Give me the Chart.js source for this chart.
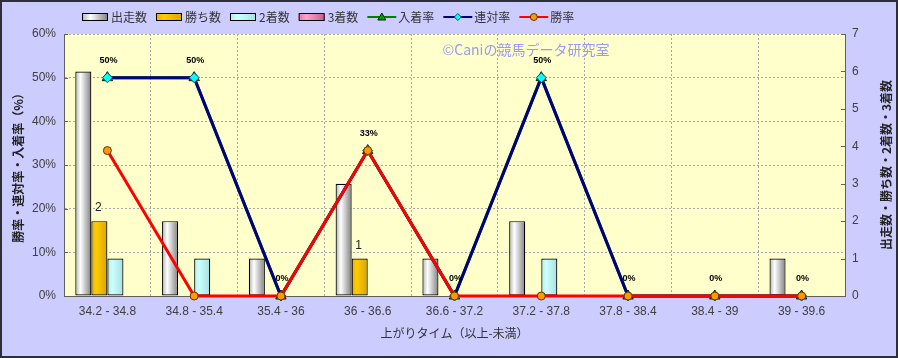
<!DOCTYPE html>
<html>
<head>
<meta charset="utf-8">
<script src="https://cdn.jsdelivr.net/npm/chart.js@4.4.1/dist/chart.umd.min.js"></script>
<style>
html,body{margin:0;padding:0;background:#CCCCFF;}
canvas{display:block;}
</style>
</head>
<body>
<canvas id="c" width="898" height="358"></canvas>
<script>
// ---- data ----
const categories = ['34.2 - 34.8','34.8 - 35.4','35.4 - 36','36 - 36.6','36.6 - 37.2','37.2 - 37.8','37.8 - 38.4','38.4 - 39','39 - 39.6'];
const runs      = [6, 2, 1, 3, 1, 2, 0, 0, 1];   // 出走数
const wins      = [2, 0, 0, 1, 0, 0, 0, 0, 0];   // 勝ち数
const seconds   = [1, 1, 0, 0, 0, 1, 0, 0, 0];   // 2着数
const thirds    = [0, 0, 0, 0, 0, 0, 0, 0, 0];   // 3着数
const placeRate = [50, 50, 0, 33.3, 0, 50, 0, 0, 0];  // 入着率
const rentaiRate= [50, 50, 0, 33.3, 0, 50, 0, 0, 0];  // 連対率
const winRate   = [33.3, 0, 0, 33.3, 0, 0, 0, 0, 0];  // 勝率
const leftTickLabels  = ['0%','10%','20%','30%','40%','50%','60%'];
const rightTickLabels = ['0','1','2','3','4','5','6','7'];

// ---- styles ----
const CJK = '"Noto Sans CJK JP", "Liberation Sans", sans-serif';
const LAT = '"Liberation Sans", Arial, sans-serif';
const BAR_GRAD = {
  runs:    [[0,'#B0B0B0'],[0.32,'#FFFFFF'],[1,'#808080']],
  wins:    [[0,'#E6AE00'],[0.3,'#FFCC00'],[1,'#D9A500']],
  seconds: [[0,'#B2ECEC'],[0.3,'#CCFFFF'],[1,'#A6E0E0']],
  thirds:  [[0,'#E07AB0'],[0.3,'#FFA0CC'],[1,'#C06090']]
};

function mkGrad(ctx, x0, x1, stops){
  const g = ctx.createLinearGradient(x0, 0, x1, 0);
  stops.forEach(s => g.addColorStop(s[0], s[1]));
  return g;
}

const gradientBars = {
  id: 'gradientBars',
  beforeDatasetsDraw(chart){
    const ctx = chart.ctx;
    chart.data.datasets.forEach((ds, di) => {
      if (!ds._grad) return;
      chart.getDatasetMeta(di).data.forEach(el => {
        const w = el.width, x0 = el.x - w/2;
        el.options.backgroundColor = mkGrad(ctx, x0, x0 + w, BAR_GRAD[ds._grad]);
      });
    });
  }
};

const background = {
  id: 'background',
  beforeDraw(chart){
    const {ctx, chartArea:a} = chart;
    ctx.save();
    ctx.fillStyle = '#CCCCFF';
    ctx.fillRect(0, 0, chart.width, chart.height);
    ctx.fillStyle = '#FFFFCC';
    ctx.fillRect(a.left, a.top, a.right - a.left, a.bottom - a.top);
    ctx.restore();
  },
  beforeDatasetsDraw(chart){
    const {ctx, chartArea:a, scales} = chart;
    ctx.save();
    // watermark
    ctx.font = '14px ' + CJK;
    ctx.fillStyle = '#9A9AF0';
    ctx.textAlign = 'center';
    ctx.textBaseline = 'middle';
    ctx.fillText('©Caniの競馬データ研究室', 526, 50);
    // inner tick marks
    ctx.strokeStyle = '#606060';
    ctx.lineWidth = 1;
    ctx.beginPath();
    scales.y.ticks.forEach(t => {
      const y = Math.round(scales.y.getPixelForValue(t.value)) + 0.5;
      ctx.moveTo(a.left, y); ctx.lineTo(a.left + 4, y);
    });
    scales.y1.ticks.forEach(t => {
      const y = Math.round(scales.y1.getPixelForValue(t.value)) + 0.5;
      ctx.moveTo(a.right - 4, y); ctx.lineTo(a.right, y);
    });
    ctx.stroke();
    ctx.restore();
  },
  afterDatasetsDraw(chart){
    const ctx = chart.ctx;
    ctx.save();
    ctx.textAlign = 'center';
    ctx.textBaseline = 'middle';
    // rate labels above 連対率 points
    ctx.font = 'bold 9px ' + LAT;
    ctx.fillStyle = '#000000';
    const rm = chart.getDatasetMeta(5);
    rm.data.forEach((el, i) => {
      ctx.fillText(Math.round(rentaiRate[i]) + '%', el.x + 1, el.y - 17);
    });
    // win count labels
    ctx.font = '12px ' + LAT;
    ctx.fillStyle = '#222222';
    const wm = chart.getDatasetMeta(1);
    wm.data.forEach((el, i) => {
      if (wins[i] > 0) ctx.fillText(String(wins[i]), el.x - 1, el.y - 13);
    });
    ctx.restore();
  },
  afterDraw(chart){
    const ctx = chart.ctx;
    ctx.save();
    // right axis title (reads bottom to top)
    ctx.font = 'bold 12px ' + CJK;
    ctx.fillStyle = '#222222';
    ctx.textAlign = 'center';
    ctx.textBaseline = 'middle';
    ctx.translate(886, 165);
    ctx.rotate(-Math.PI/2);
    ctx.fillText('出走数・勝ち数・2着数・3着数', 0, 0);
    ctx.restore();

    // legend
    ctx.save();
    ctx.font = '12px ' + CJK;
    ctx.textBaseline = 'middle';
    ctx.textAlign = 'left';
    let x = 82; const cy = 17;
    chart.data.datasets.forEach(ds => {
      if (ds._grad) {
        ctx.fillStyle = mkGrad(ctx, x, x + 26, BAR_GRAD[ds._grad]);
        ctx.fillRect(x, cy - 3, 26, 6);
        ctx.strokeStyle = '#000000';
        ctx.lineWidth = 1;
        ctx.strokeRect(x + 0.5, cy - 3.5, 25, 7);
        x += 29;
      } else {
        ctx.strokeStyle = ds.borderColor;
        ctx.lineWidth = 2;
        ctx.beginPath(); ctx.moveTo(x, cy); ctx.lineTo(x + 29, cy); ctx.stroke();
        const mx = x + 14.5;
        ctx.fillStyle = ds.pointBackgroundColor;
        ctx.strokeStyle = ds.pointBorderColor;
        ctx.lineWidth = 1;
        ctx.beginPath();
        if (ds.pointStyle === 'triangle') {
          ctx.moveTo(mx, cy - 4); ctx.lineTo(mx + 4, cy + 3); ctx.lineTo(mx - 4, cy + 3); ctx.closePath();
        } else if (ds.pointStyle === 'rectRot') {
          ctx.moveTo(mx, cy - 3.5); ctx.lineTo(mx + 3.5, cy); ctx.lineTo(mx, cy + 3.5); ctx.lineTo(mx - 3.5, cy); ctx.closePath();
        } else {
          ctx.arc(mx, cy, 3.5, 0, Math.PI * 2);
        }
        ctx.fill(); ctx.stroke();
        x += 31;
      }
      ctx.fillStyle = '#333333';
      ctx.fillText(ds.label, x, cy);
      x += ctx.measureText(ds.label).width + 9;
    });
    ctx.restore();

    // outer frame
    ctx.save();
    ctx.strokeStyle = '#2E2E3A';
    ctx.lineWidth = 2;
    ctx.strokeRect(1, 1, chart.width - 2, chart.height - 2);
    ctx.restore();
  }
};

const barCommon = {
  type: 'bar', yAxisID: 'y1',
  borderColor: '#000000', borderWidth: 1.2, borderSkipped: false,
  barPercentage: 1.0, categoryPercentage: 0.74
};
const lineCommon = {
  type: 'line', yAxisID: 'y', borderWidth: 3, tension: 0, clip: false,
  pointBorderWidth: 1, fill: false
};

new Chart(document.getElementById('c'), {
  data: {
    labels: categories,
    datasets: [
      Object.assign({}, barCommon, {label: '出走数', data: runs,    _grad: 'runs',    backgroundColor: () => '#FFFFFF', order: 10}),
      Object.assign({}, barCommon, {label: '勝ち数', data: wins,    _grad: 'wins',    backgroundColor: () => '#FFCC00', order: 11}),
      Object.assign({}, barCommon, {label: '2着数',  data: seconds, _grad: 'seconds', backgroundColor: () => '#CCFFFF', order: 12}),
      Object.assign({}, barCommon, {label: '3着数',  data: thirds,  _grad: 'thirds',  backgroundColor: () => '#FF99CC', order: 13}),
      Object.assign({}, lineCommon, {label: '入着率', data: placeRate, borderColor: '#008000',
        pointStyle: 'triangle', pointRadius: 6, pointBackgroundColor: '#00A000', pointBorderColor: '#002000', order: 3}),
      Object.assign({}, lineCommon, {label: '連対率', data: rentaiRate, borderColor: '#000080',
        pointStyle: 'rectRot', pointRadius: 5, pointBackgroundColor: '#00FFFF', pointBorderColor: '#005050', order: 2}),
      Object.assign({}, lineCommon, {label: '勝率', data: winRate, borderColor: '#FF0000',
        pointStyle: 'circle', pointRadius: 4, pointBackgroundColor: '#FF9900', pointBorderColor: '#663300', order: 1})
    ]
  },
  plugins: [gradientBars, background],
  options: {
    responsive: false,
    animation: false,
    devicePixelRatio: 1,
    events: [],
    layout: { padding: { top: 34, left: 0, right: 0, bottom: 0 } },
    plugins: { legend: { display: false }, tooltip: { enabled: false } },
    scales: {
      x: {
        type: 'category',
        offset: true,
        grid: { offset: true, color: '#A8A8A8', lineWidth: 1, drawTicks: false },
        border: { display: true, color: '#606060', width: 1, dash: [2, 2] },
        ticks: { font: { family: LAT, size: 12 }, color: '#404040', padding: 8, maxRotation: 0, autoSkip: false },
        title: { display: true, text: '上がりタイム（以上-未満）', font: { family: CJK, size: 12 }, color: '#333333', padding: { top: 0, bottom: 17 } },
        afterFit: s => { s.height = 62; }
      },
      y: {
        position: 'left',
        min: 0, max: 60,
        ticks: { stepSize: 10, font: { family: LAT, size: 12 }, color: '#404040', padding: 8,
          callback: (v, i) => leftTickLabels[i] },
        grid: { color: '#A8A8A8', lineWidth: 1, drawTicks: false },
        border: { display: true, color: '#606060', width: 1, dash: [2, 2] },
        title: { display: true, text: '勝率・連対率・入着率（%）', font: { family: CJK, size: 12, weight: 'bold' }, color: '#222222', padding: { top: 11, bottom: 0 } },
        afterFit: s => { s.width = 64; }
      },
      y1: {
        position: 'right',
        min: 0, max: 7,
        ticks: { stepSize: 1, font: { family: LAT, size: 12 }, color: '#404040', padding: 7,
          callback: (v, i) => rightTickLabels[i] },
        grid: { drawOnChartArea: false, drawTicks: false },
        border: { display: true, color: '#606060', width: 1 },
        afterFit: s => { s.width = 53; }
      }
    }
  }
});
</script>
</body>
</html>
